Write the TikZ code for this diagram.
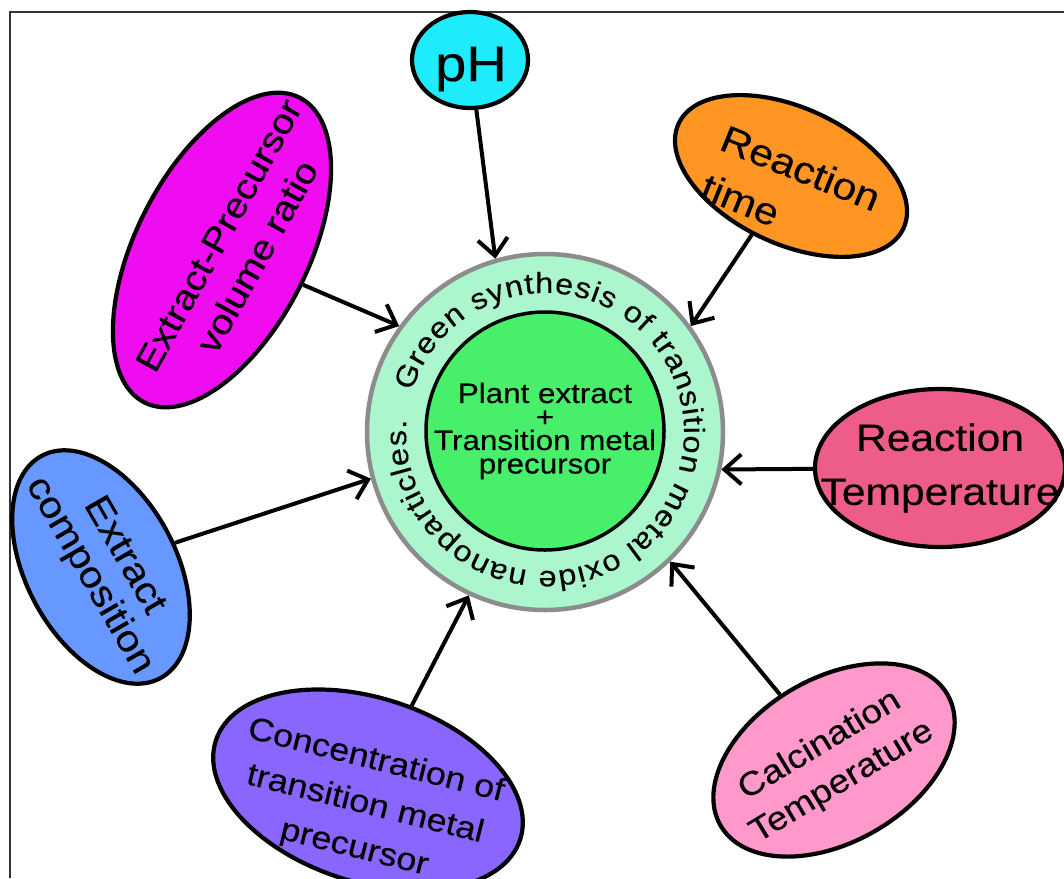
\documentclass[tikz,border=0pt]{standalone}
\usepackage{fontspec}
\setmainfont[FakeStretch=1.12,FakeBold=0.3]{Liberation Sans}
\usetikzlibrary{shapes.geometric,arrows.meta,decorations.text}
\definecolor{ringfill}{RGB}{172,246,206}
\definecolor{ringline}{RGB}{140,140,140}
\definecolor{corefill}{RGB}{72,239,106}
\definecolor{phfill}{RGB}{30,236,252}
\definecolor{timefill}{RGB}{255,150,36}
\definecolor{ratiofill}{RGB}{240,12,240}
\definecolor{tempfill}{RGB}{238,92,138}
\definecolor{compfill}{RGB}{102,152,255}
\definecolor{concfill}{RGB}{138,102,255}
\definecolor{calcfill}{RGB}{255,153,204}
\newcommand{\ringsize}{\fontsize{29}{30}\selectfont}
\begin{document}
\begin{tikzpicture}[x=1pt,y=1pt,
  bub/.style={ellipse, draw=black, line width=4.2pt, inner sep=0pt},
  lbl/.style={inner sep=0pt, align=center, text=black},
  arr/.style={line width=4pt, -{Straight Barb[length=17pt,width=30pt,line width=4pt]}}]
\useasboundingbox (0,0) rectangle (1064,-878);
\clip (0,0) rectangle (1064,-878);
\fill[white] (0,0) rectangle (1064,-878);
\draw[line width=1.6pt, black!80] (10,-878) -- (10,-12) -- (1064,-12);

% centre
\node[circle, fill=ringfill, draw=ringline, line width=4.5pt, minimum size=356pt, inner sep=0pt] (ring) at (545,-432) {};
\node[circle, fill=corefill, draw=black, line width=3.5pt, minimum size=238pt, inner sep=0pt] (core) at (545,-431) {};
\node[lbl, font={\fontsize{28}{23.5}\selectfont}] (coreT) at (545,-431) {Plant extract\\+\\Transition metal\\precursor};
\path[decorate, decoration={text along path, text={|\ringsize|Green synthesis of transition metal oxide nanoparticles.}, text align={fit to path}}]
  ([shift={(163:139)}]ring.center) arc[start angle=163, end angle=-185, radius=139];

% satellites
\node[bub, fill=phfill, minimum width=116pt, minimum height=96pt] (ph) at (470,-60) {};
\node[lbl, font={\fontsize{50}{50}\selectfont}] (phT) at (471,-69) {pH};

\node[bub, fill=timefill, minimum width=248pt, minimum height=136pt, rotate=-25] (rtime) at (791,-176) {};
\node[lbl, align=left, rotate=-22, font={\fontsize{38}{52}\selectfont}] (rtimeT) at (791,-192) {Reaction\\time};

\node[bub, fill=ratiofill, minimum width=342pt, minimum height=172pt, rotate=63] (ratio) at (222,-250) {};
\node[lbl, rotate=61, font={\fontsize{35}{44}\selectfont}] (ratioT) at (238,-246) {Extract-Precursor\\volume ratio};

\node[bub, fill=tempfill, minimum width=250pt, minimum height=158pt] (rtemp) at (940,-468) {};
\node[lbl, font={\fontsize{38}{54}\selectfont}] (rtempT) at (940,-468) {Reaction\\Temperature};

\node[bub, fill=compfill, minimum width=252pt, minimum height=150pt, rotate=-62] (comp) at (101,-567) {};
\node[lbl, rotate=-60, font={\fontsize{37}{40}\selectfont}] (compT) at (106,-566) {Extract\\composition};

\node[bub, fill=concfill, minimum width=320pt, minimum height=184pt, rotate=-18] (conc) at (368,-790) {};
\node[lbl, rotate=-14, font={\fontsize{32}{45}\selectfont}] (concT) at (365,-805) {Concentration of\\transition metal\\precursor};

\node[bub, fill=calcfill, minimum width=262pt, minimum height=164pt, rotate=30] (calc) at (834,-760) {};
\node[lbl, rotate=31, font={\fontsize{33}{43}\selectfont}] (calcT) at (831,-764) {Calcination\\Temperature};

% connectors
\draw[arr] (ph) -- (ring.106.6);
\draw[arr] (rtime) -- (ring.36.4);
\draw[arr] (ratio) -- (ring.144);
\draw[arr] (rtemp) -- (ring.348.8);
\draw[arr] (comp) -- (ring.195.2);
\draw[arr] (conc) -- (ring.245.7);
\draw[arr] (calc) -- (ring.314.1);
\end{tikzpicture}
\end{document}
